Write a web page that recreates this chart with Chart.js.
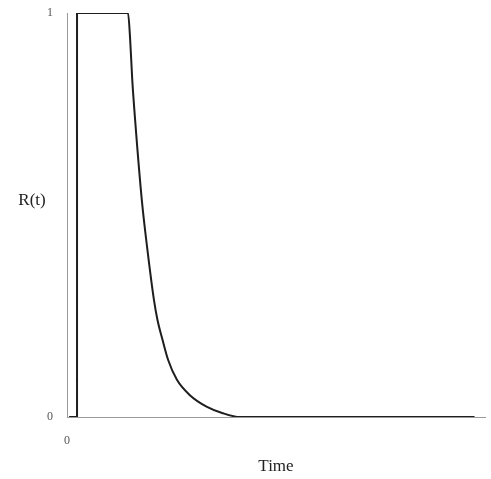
<!DOCTYPE html>
<html>
<head>
<meta charset="utf-8">
<script src="https://cdn.jsdelivr.net/npm/chart.js@4.4.0/dist/chart.umd.min.js"></script>
<style>
  html, body { margin: 0; padding: 0; background: #fff; }
  #wrap { width: 491px; height: 479px; position: relative; }
</style>
</head>
<body>
<div id="wrap"><canvas id="myChart"></canvas></div>
<script>
// R(t), time in arbitrary units (0..100)
const times = [0.5, 2.4, 2.4, 14.6, 15.1, 15.6, 16.3, 17.9, 19.25, 20.8, 21.65, 22.85, 24.2, 26.3, 29.4, 33.5, 37.1, 41.4, 97.5];
const rValues = [0, 0, 1, 1, 0.936, 0.837, 0.735, 0.537, 0.413, 0.29, 0.24, 0.191, 0.141, 0.092, 0.054, 0.025, 0.01, 0, 0];
const yTicks = [0, 1];
const xTicks = [0];

const points = times.map((t, i) => ({ x: t, y: rValues[i] }));

const serif = '"Liberation Serif", "DejaVu Serif", serif';

// draws the R(t) label beside the axis, the way the original has it
const sideLabel = {
    id: 'sideLabel',
    afterDraw(chart) {
        const ctx = chart.ctx;
        const yScale = chart.scales.y;
        ctx.save();
        ctx.fillStyle = '#222';
        ctx.font = '17px ' + serif;
        ctx.textAlign = 'center';
        ctx.textBaseline = 'middle';
        ctx.fillText('R(t)', 32, yScale.getPixelForValue(0.537));
        ctx.restore();
    }
};

const config = {
    type: 'scatter',
    data: {
        datasets: [{
            data: points,
            showLine: true,
            borderColor: '#1e1e1e',
            borderWidth: 2,
            pointRadius: 0,
            cubicInterpolationMode: 'monotone'
        }]
    },
    options: {
        responsive: false,
        animation: false,
        layout: { padding: { top: 13, right: 6, left: 0, bottom: 0 } },
        plugins: { legend: { display: false }, tooltip: { enabled: false } },
        scales: {
            x: {
                type: 'linear',
                min: 0,
                max: 100,
                grid: { display: false, drawTicks: false },
                border: { display: true, color: '#9a9a9a', width: 1 },
                afterBuildTicks(scale) { scale.ticks = xTicks.map(v => ({ value: v })); },
                ticks: { color: '#555', font: { family: serif, size: 12 }, padding: 17 },
                title: {
                    display: true,
                    text: 'Time',
                    color: '#222',
                    font: { family: serif, size: 17 },
                    padding: { top: 4, bottom: 2 }
                },
                afterFit(scale) {
                    scale.height = 62;
                    scale.paddingLeft = 0;
                    scale.paddingRight = 0;
                }
            },
            y: {
                min: 0,
                max: 1,
                grid: { display: false, drawTicks: false },
                border: { display: true, color: '#9a9a9a', width: 1 },
                afterBuildTicks(scale) { scale.ticks = yTicks.map(v => ({ value: v })); },
                ticks: { color: '#555', font: { family: serif, size: 12 }, padding: 14 },
                afterFit(scale) {
                    scale.width = 67;
                    scale.paddingTop = 0;
                    scale.paddingBottom = 0;
                }
            }
        }
    },
    plugins: [sideLabel]
};

const canvas = document.getElementById('myChart');
canvas.width = 491;
canvas.height = 479;
const myChart = new Chart(canvas, config);
</script>
</body>
</html>
